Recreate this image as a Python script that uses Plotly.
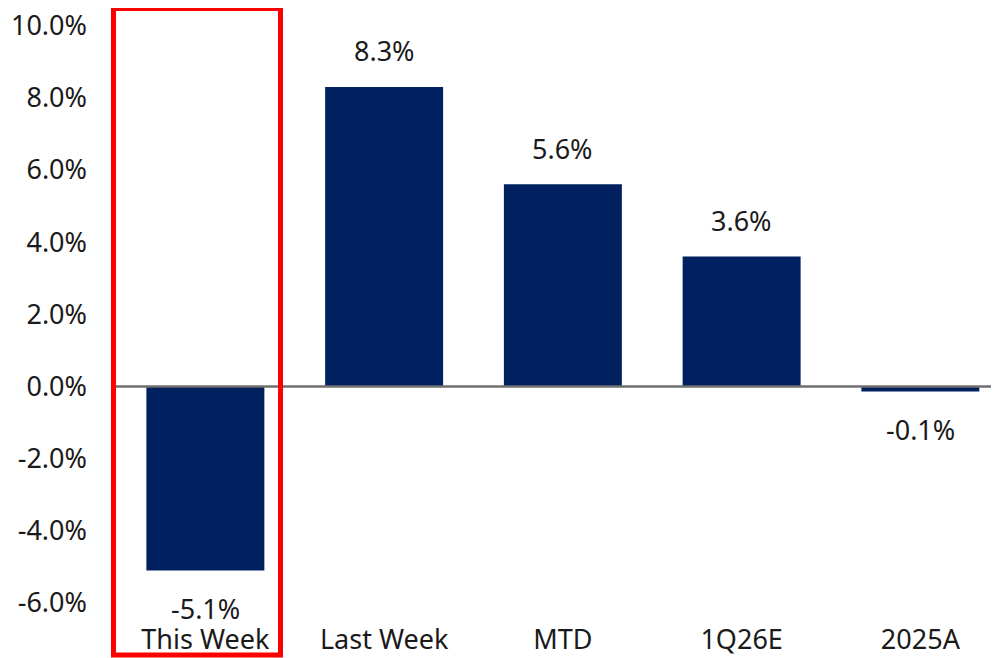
import plotly.graph_objects as go

categories = ["This Week", "Last Week", "MTD", "1Q26E", "2025A"]
values = [-5.1, 8.3, 5.6, 3.6, -0.14]
y_tick_vals = [-6, -4, -2, 0, 2, 4, 6, 8, 10]
y_tick_text = ["-6.0%", "-4.0%", "-2.0%", "0.0%", "2.0%", "4.0%", "6.0%", "8.0%", "10.0%"]
highlight_index = 0

# page body adds an 8px margin; size the figure so it fills the window
OFF = 8
W, H = 999 - OFF, 658 - OFF
ML, MR, MT, MB = 116 - OFF, 0, 0, 36.5
PW, PH = W - ML - MR, H - MT - MB

FONT = "Noto Sans, Open Sans, sans-serif"
FS = 27
TXT = "#1a1a1a"
BAR = "#002060"

fig = go.Figure()
fig.add_trace(go.Bar(
    x=list(range(len(categories))), y=values, width=0.66,
    marker=dict(color=BAR, line=dict(width=0)),
    hoverinfo="skip",
))

for i, v in enumerate(values):
    fig.add_annotation(
        x=i, y=v, xref="x", yref="y", text=f"{v:.1f}%", showarrow=False,
        yanchor="middle", yshift=36 if v >= 0 else -38,
        font=dict(family=FONT, size=FS, color=TXT),
    )

# zero line on top of bars
fig.add_shape(type="line", xref="paper", yref="y", x0=0, x1=1, y0=0, y1=0,
              line=dict(color="#6f6f6f", width=2.5), layer="above")

# red highlight box around the first category (window pixel -> paper)
def px_x(p):
    return (p - OFF - ML) / PW

def px_y(p):
    return 1 - (p - OFF - MT) / PH

fig.add_shape(type="rect", xref="paper", yref="paper",
              x0=px_x(113.5), x1=px_x(280.5), y0=px_y(655.5), y1=px_y(8.5),
              line=dict(color="#ff0000", width=5), fillcolor="rgba(0,0,0,0)", layer="above")

xmax = -0.5 + PW / 178.75
fig.update_layout(
    width=W, height=H,
    margin=dict(l=ML, r=MR, t=MT, b=MB, pad=0, autoexpand=False),
    plot_bgcolor="white", paper_bgcolor="white",
    showlegend=False,
    font=dict(family=FONT, size=FS, color=TXT),
    xaxis=dict(
        range=[-0.5, xmax], tickmode="array",
        tickvals=list(range(len(categories))), ticktext=categories,
        showgrid=False, zeroline=False, showline=False, ticks="",
        tickfont=dict(family=FONT, size=FS, color=TXT),
        ticklabelstandoff=0, automargin=False, ticklabeloverflow="allow",
    ),
    yaxis=dict(
        range=[-6.5, (384.5 - OFF) / 35.9], tickmode="array",
        tickvals=y_tick_vals, ticktext=y_tick_text,
        showgrid=False, zeroline=False, showline=False, ticks="",
        tickfont=dict(family=FONT, size=FS, color=TXT),
        ticklabelstandoff=28, automargin=False, ticklabeloverflow="allow",
    ),
)

fig.write_html("out.html")
